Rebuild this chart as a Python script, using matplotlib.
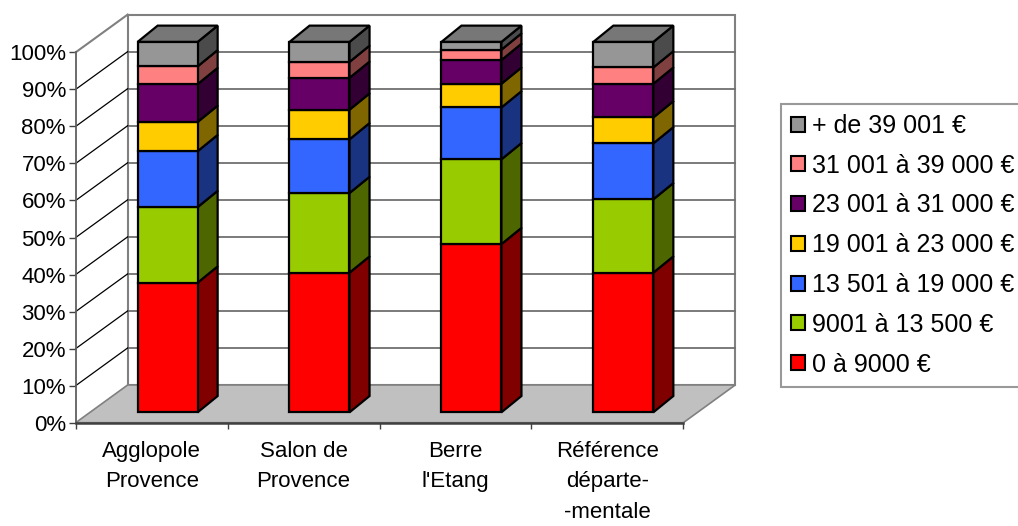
import matplotlib
matplotlib.use("Agg")
import matplotlib.pyplot as plt
from matplotlib.patches import Patch
import numpy as np

# data (% of households per income band)
categories = ["Agglopole\nProvence", "Salon de\nProvence", "Berre\nl'Etang",
              "Référence\ndéparte-\n-mentale"]
bands = ["0 à 9000 €", "9001 à 13 500 €", "13 501 à 19 000 €", "19 001 à 23 000 €",
         "23 001 à 31 000 €", "31 001 à 39 000 €", "+ de 39 001 €"]
band_0_9000 = [35.0, 37.7, 45.4, 37.7]
band_9001_13500 = [20.4, 21.5, 22.9, 19.8]
band_13501_19000 = [15.1, 14.5, 14.0, 15.1]
band_19001_23000 = [7.9, 8.0, 6.4, 7.0]
band_23001_31000 = [10.2, 8.6, 6.4, 9.1]
band_31001_39000 = [4.8, 4.3, 2.8, 4.4]
band_39001_plus = [6.6, 5.4, 2.1, 6.9]
yticks = [0, 10, 20, 30, 40, 50, 60, 70, 80, 90, 100]

series = [band_0_9000, band_9001_13500, band_13501_19000, band_19001_23000,
          band_23001_31000, band_31001_39000, band_39001_plus]
front_cols = ['#FF0000', '#99CC00', '#3366FF', '#FFCC00', '#660066', '#FF8080', '#969696']
side_cols = ['#800000', '#4D6600', '#1A3380', '#806600', '#330033', '#804040', '#4B4B4B']
top_col = '#777777'

W, H = 1018, 526
fig = plt.figure(figsize=(W / 100, H / 100), dpi=100)
ax = fig.add_axes([75.7 / W, 103.3 / H, 607.6 / W, 370.4 / H])
ax.set_xlim(0, 4)
ax.set_ylim(0, 100)
ax.patch.set_visible(False)

# 3d depth offsets in data units
DX, DY = 0.342, 10.18
bdx, bdy = 0.132, 4.4      # bar depth
fy = 2.8                   # bar front face lift
bw = 0.395                 # bar width
xc = np.arange(len(categories)) + 0.605

# walls and floor
ax.fill([DX, 4 + DX, 4 + DX, DX], [DY, DY, 100 + DY, 100 + DY], facecolor='white',
        edgecolor='#808080', lw=1.5, clip_on=False, zorder=1)
for y in yticks[1:-1]:
    ax.plot([DX, 4 + DX], [y + DY, y + DY], color='#707070', lw=1.3, clip_on=False, zorder=2)
for y in yticks[1:-1]:
    ax.plot([0, DX], [y, y + DY], color='black', lw=0.9, clip_on=False, zorder=2)
ax.plot([0, DX], [100, 100 + DY], color='#808080', lw=1.5, clip_on=False, zorder=2)
ax.fill([0, 4, 4 + DX, DX], [0, 0, DY, DY], facecolor='#C0C0C0', edgecolor='#808080',
        lw=1.2, clip_on=False, zorder=2)

# stacked bars
bottoms = np.zeros(len(categories))
for k, vals in enumerate(series):
    vals = np.array(vals)
    ax.bar(xc, vals, bw, bottom=bottoms + fy, color=front_cols[k], edgecolor='black',
           lw=1.6, clip_on=False, zorder=5)
    for i in range(len(categories)):
        x1 = xc[i] + bw / 2
        y0 = bottoms[i] + fy
        y1 = y0 + vals[i]
        ax.fill([x1, x1 + bdx, x1 + bdx, x1], [y0, y0 + bdy, y1 + bdy, y1],
                facecolor=side_cols[k], edgecolor='black', lw=1.6, clip_on=False, zorder=4)
        if k == len(series) - 1:
            x0 = xc[i] - bw / 2
            ax.fill([x0, x0 + bdx, x1 + bdx, x1], [y1, y1 + bdy, y1 + bdy, y1],
                    facecolor=top_col, edgecolor='black', lw=1.6, clip_on=False, zorder=4)
    bottoms = bottoms + vals

# axes
for s in ['top', 'right']:
    ax.spines[s].set_visible(False)
ax.spines['left'].set_color('#606060')
ax.spines['left'].set_linewidth(1.3)
ax.spines['bottom'].set_color('#404040')
ax.spines['bottom'].set_linewidth(1.8)
ax.spines['left'].set_zorder(3)
ax.spines['bottom'].set_zorder(3)

ax.set_yticks(yticks)
ax.set_yticklabels([f"{v}%" for v in yticks], family=['Liberation Sans', 'DejaVu Sans'],
                   fontsize=16)
ax.tick_params(axis='y', length=5, width=1, color='#404040', pad=2)

ax.set_xticks(range(len(categories) + 1))
ax.set_xticklabels([])
ax.tick_params(axis='x', which='major', length=4.5, width=1, color='#404040')
ax.set_xticks(np.arange(len(categories)) + 0.5, minor=True)
ax.set_xticklabels(categories, minor=True, fontsize=16, linespacing=1.6,
                   family=['Liberation Sans', 'DejaVu Sans'])
ax.tick_params(axis='x', which='minor', length=0, pad=13)

# legend (top entry = last band)
handles = [Patch(facecolor=front_cols[k], edgecolor='black', lw=1.5, label=bands[k])
           for k in range(len(bands) - 1, -1, -1)]
leg = fig.legend(handles=handles, loc='upper left', bbox_to_anchor=(781 / W, 1 - 104 / H),
                 borderaxespad=0, frameon=True, fancybox=False, handlelength=0.55,
                 handleheight=0.55, handletextpad=0.3, labelspacing=0.63, borderpad=0.4,
                 prop={'family': ['Liberation Sans', 'DejaVu Sans'], 'size': 18})
leg.get_frame().set_edgecolor('#808080')
leg.get_frame().set_linewidth(1.5)

fig.savefig("out.png", dpi=100)
